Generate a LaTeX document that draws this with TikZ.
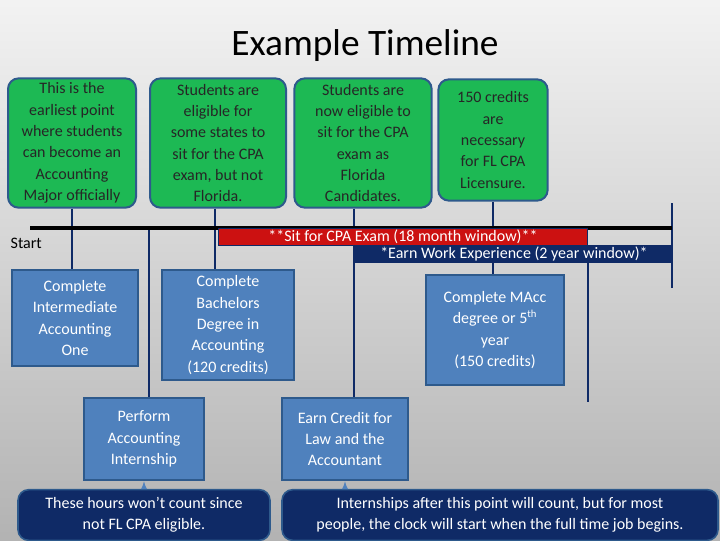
\documentclass[tikz,border=0pt]{standalone}
\usepackage{fontspec}
\setmainfont{Carlito}
\definecolor{boxblue}{HTML}{4F81BD}
\definecolor{boxedge}{HTML}{2E5A8C}
\definecolor{navy}{HTML}{0F2A66}
\definecolor{leafgreen}{HTML}{1DB954}
\definecolor{bannerred}{HTML}{CC1111}
\tikzset{
  greenbox/.style={draw=boxedge, line width=1.5pt, fill=leafgreen, rounded corners=8pt, text=black!85, align=center, font=\fontsize{12}{16}\selectfont, inner sep=1pt},
  bluebox/.style={draw=boxedge, line width=1.5pt, fill=boxblue, text=white, align=center, font=\fontsize{12}{16}\selectfont, inner sep=1pt},
  notebox/.style={draw=boxedge, line width=1.2pt, fill=navy, rounded corners=8pt, text=white, align=center, font=\fontsize{12}{16}\selectfont, inner sep=1pt},
  banner/.style={text=white, font=\fontsize{12}{13}\selectfont, inner sep=0pt, anchor=north west},
  tick/.style={line width=2pt, navy},
}
\begin{document}
\begin{tikzpicture}[x=0.75pt,y=-0.75pt]
  \shade[top color=white!95!black, bottom color=black!30] (0,0) rectangle (720,540);
  \useasboundingbox (0,0) rectangle (720,540);
  \node[font=\fontsize{28}{30}\selectfont] (title) at (365,46) {Example Timeline};
  % top boxes
  \node[greenbox, minimum width=96pt, minimum height=97pt] (g1) at (72,143) {This is the\\earliest point\\where students\\can become an\\Accounting\\Major officially};
  \node[greenbox, minimum width=102pt, minimum height=97pt] (g2) at (218,143) {Students are\\eligible for\\some states to\\sit for the CPA\\exam, but not\\Florida.};
  \node[greenbox, minimum width=103pt, minimum height=97pt] (g3) at (363,143) {Students are\\now eligible to\\sit for the CPA\\exam as\\Florida\\Candidates.};
  \node[greenbox, minimum width=82pt, minimum height=91pt] (g4) at (493,140) {150 credits\\are\\necessary\\for FL CPA\\Licensure.};
  % lower boxes
  \node[bluebox, minimum width=94pt, minimum height=72pt] (b1) at (75,318) {Complete\\Intermediate\\Accounting\\One};
  \node[bluebox, minimum width=99pt, minimum height=82pt] (b2) at (228,325) {Complete\\Bachelors\\Degree in\\Accounting\\(120 credits)};
  \node[bluebox, minimum width=104pt, minimum height=82pt] (b3) at (495,330) {Complete MAcc\\degree or 5\textsuperscript{th}\\year\\(150 credits)};
  \node[bluebox, minimum width=90pt, minimum height=62pt] (b4) at (144,439) {Perform\\Accounting\\Internship};
  \node[bluebox, minimum width=95pt, minimum height=62pt] (b5) at (345,439) {Earn Credit for\\Law and the\\Accountant};
  \node[notebox, minimum width=189pt, minimum height=38pt] (n1) at (144,515) {These hours won't count since\\not FL CPA eligible.};
  \node[notebox, minimum width=327pt, minimum height=38pt] (n2) at (500,515) {Internships after this point will count, but for most\\people, the clock will start when the full time job begins.};
  % ticks
  \draw[tick] (g1.south) -- (g1.south |- b1.north);
  \draw[tick] (g2.south -| 215,0) -- (b2.north -| 215,0);
  \draw[tick] (g3.south -| 354,0) -- (b5.north -| 354,0);
  \draw[tick] (g4.south) -- (g4.south |- b3.north);
  \draw[tick] (149,230) -- (b4.north -| 149,0);
  \coordinate (t6a) at (588,263);
  \coordinate (t6b) at (588,402);
  \draw[tick] (t6a) -- (t6b);
  \coordinate (t7a) at (672,203);
  \coordinate (t7b) at (672,288);
  \draw[tick] (t7a) -- (t7b);
  % timeline
  \coordinate (tl0) at (30,228);
  \coordinate (tl1) at (672,228);
  \draw[line width=3pt] (tl0) -- (tl1);
  \node[anchor=west, font=\fontsize{12}{13}\selectfont] (start) at (6,243) {Start};
  % banners
  \node[banner, fill=bannerred, draw=navy, minimum width=277pt, minimum height=13pt] (exam) at (218,228) {};
  \node[text=white, font=\fontsize{12}{13}\selectfont] at (exam.center) {**Sit for CPA Exam (18 month window)**};
  \node[banner, fill=navy, minimum width=238pt, minimum height=13.5pt] (work) at (355,245) {};
  \node[text=white, font=\fontsize{12}{13}\selectfont] at (work.center) {*Earn Work Experience (2 year window)*};
  \draw[-latex, line width=1pt, boxblue] (n1.north) -- (b4.south);
  \draw[-latex, line width=1pt, boxblue] (n2.north -| b5.south) -- (b5.south);
\end{tikzpicture}
\end{document}
